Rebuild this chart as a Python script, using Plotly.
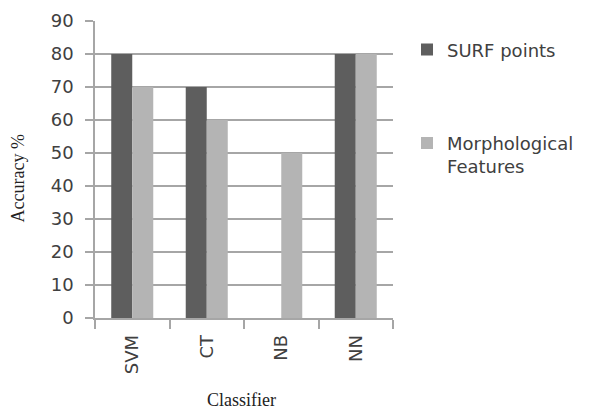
import plotly.graph_objects as go

categories = ["SVM", "CT", "NB", "NN"]
surf_points = [80, 70, 0, 80]
morph_features = [70, 60, 50, 80]
y_ticks = [0, 10, 20, 30, 40, 50, 60, 70, 80, 90]

fig = go.Figure()
fig.add_trace(go.Bar(
    x=categories, y=surf_points, name="SURF points", legendgroup="a",
    marker=dict(color="#5e5e5e", line=dict(width=0)),
))
fig.add_trace(go.Bar(
    x=categories, y=morph_features, name="Morphological<br>Features", legendgroup="b",
    marker=dict(color="#b4b4b4", line=dict(width=0)),
))

fig.update_layout(
    width=595, height=412, autosize=False,
    margin=dict(l=95, r=202, t=21, b=94, autoexpand=False),
    plot_bgcolor="white", paper_bgcolor="white",
    barmode="group", bargap=0.436, bargroupgap=0.0,
    font=dict(family="DejaVu Sans", color="#404040"),
    showlegend=True,
    legend=dict(x=1.047, y=0.965, xanchor="left", yanchor="top", valign="top",
                font=dict(size=18, color="#404040"),
                tracegroupgap=67, itemwidth=30, traceorder="grouped"),
    xaxis=dict(
        type="category", tickangle=-90, tickson="boundaries", automargin=False,
        ticks="outside", ticklen=9, tickcolor="#a6a6a6", tickwidth=1.5,
        showline=True, linecolor="#a6a6a6", linewidth=1.5,
        tickfont=dict(size=18, color="#404040"), showgrid=False,
        ticklabelstandoff=8,
    ),
    yaxis=dict(
        range=[0, 90], tickvals=y_ticks, ticks="outside", ticklen=8, automargin=False,
        tickcolor="#a6a6a6", tickwidth=1.5,
        showline=True, linecolor="#a6a6a6", linewidth=1.5,
        showgrid=True, gridcolor="#a6a6a6", gridwidth=1.5,
        tickfont=dict(size=18, color="#404040"), zeroline=False,
        ticklabelstandoff=8,
    ),
    annotations=[
        dict(text="Accuracy %", xref="paper", yref="paper", x=-0.258, y=0.47,
             xanchor="center", yanchor="middle",
             textangle=-90, showarrow=False,
             font=dict(family="Liberation Serif", size=18, color="#222")),
        dict(text="Classifier", xref="paper", yref="paper", x=0.49, y=-0.235,
             yanchor="top", showarrow=False,
             font=dict(family="Liberation Serif", size=18, color="#222")),
    ],
)

fig.write_html("out.html", config={"displayModeBar": False},
               post_script="document.body.style.margin='0';")
